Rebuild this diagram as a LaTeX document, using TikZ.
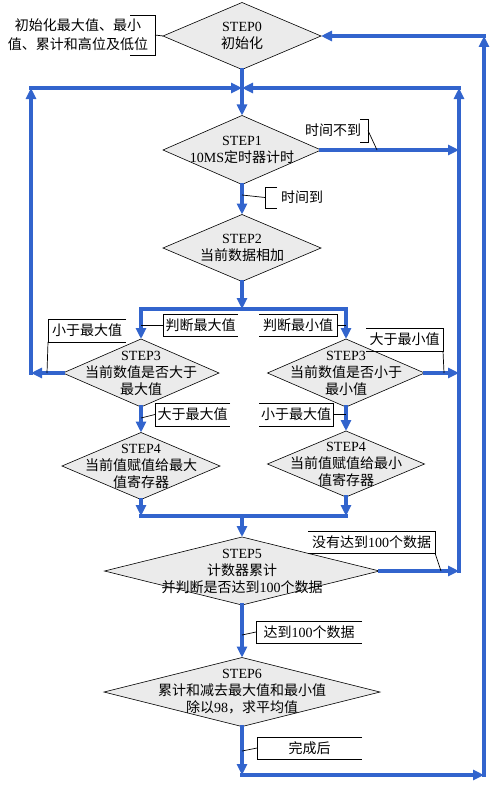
\documentclass[tikz,border=0pt]{standalone}
\usepackage{fontspec}
\setmainfont{Liberation Serif}
\newfontfamily\cjk{Noto Sans CJK SC}
\newcommand\zh[1]{{\cjk #1}}
\usetikzlibrary{shapes.geometric,arrows.meta}
\definecolor{flowblue}{RGB}{50,100,205}
\begin{document}
\begin{tikzpicture}[x=1bp,y=-1bp,
  dia/.style={diamond, draw=black, line width=0.6bp, fill=black!8, inner sep=0, outer sep=0},
  txt/.style={font=\fontsize{14bp}{17bp}\selectfont, align=center, inner sep=0},
  flowline/.style={draw=flowblue, line width=3.1bp, line cap=rect},
  flow/.style={flowline, -{Triangle[length=11bp,width=10bp]}},
  brk/.style={draw=black, line width=0.7bp},
  bx/.style={font=\fontsize{14bp}{17bp}\selectfont, inner sep=0, outer sep=0}
]
\useasboundingbox (0,0) rectangle (500,795);

% diamonds
\node[dia, minimum width=158bp, minimum height=67bp] (s0) at (242,36) {};
\node[dia, minimum width=158bp, minimum height=69bp] (s1) at (242,150) {};
\node[dia, minimum width=158bp, minimum height=67bp] (s2) at (242,248) {};
\node[dia, minimum width=156bp, minimum height=68bp] (s3a) at (141,373) {};
\node[dia, minimum width=157bp, minimum height=68bp] (s3b) at (346,373) {};
\node[dia, minimum width=158bp, minimum height=67bp] (s4a) at (141,466) {};
\node[dia, minimum width=157bp, minimum height=66bp] (s4b) at (346,464) {};
\node[dia, minimum width=275bp, minimum height=68bp] (s5) at (242,571) {};
\node[dia, minimum width=276bp, minimum height=69bp] (s6) at (242,692) {};

% diamond texts
\node[txt] (t0) at (s0.center) {STEP0\\\zh{初始化}};
\node[txt] (t1) at (s1.center) {STEP1\\10MS\zh{定时器计时}};
\node[txt] (t2) at (s2.center) {STEP2\\\zh{当前数据相加}};
\node[txt] (t3a) at (s3a.center) {STEP3\\\zh{当前数值是否大于}\\\zh{最大值}};
\node[txt] (t3b) at (s3b.center) {STEP3\\\zh{当前数值是否小于}\\\zh{最小值}};
\node[txt] (t4a) at (s4a.center) {STEP4\\\zh{当前值赋值给最大}\\\zh{值寄存器}};
\node[txt] (t4b) at (s4b.center) {STEP4\\\zh{当前值赋值给最小}\\\zh{值寄存器}};
\node[txt] (t5) at (s5.center) {STEP5\\\zh{计数器累计}\\\zh{并判断是否达到}100\zh{个数据}};
\node[txt] (t6) at (s6.center) {STEP6\\\zh{累计和减去最大值和最小值}\\\zh{除以}98\zh{，求平均值}};

% coordinates of the flow lines
\coordinate (j0) at (242,88);
\coordinate (L1) at (31,373);
\coordinate (L2) at (31,88);
\coordinate (R1) at (459,150);
\coordinate (R2) at (459,373);
\coordinate (R3) at (459,571);
\coordinate (R4) at (459,88);
\coordinate (M1) at (242,309);
\coordinate (M1a) at (141,309);
\coordinate (M1b) at (346,309);
\coordinate (M2) at (242,516);
\coordinate (M2a) at (141,516);
\coordinate (M2b) at (346,516);
\coordinate (B1) at (242,775);
\coordinate (B2) at (484,775);
\coordinate (B3) at (484,36);

% flow lines
\draw[flow] (s0.south) -- (s1.north);
\draw[flow] (s3a.west) -- (L1);
\draw[flow] (L1) -- (L2);
\draw[flow] (L2) -- (j0);
\draw[flow] (s1.east) -- (R1);
\draw[flow] (s3b.east) -- (R2);
\draw[flow] (s5.east) -- (R3);
\draw[flow] (R3) -- (R4);
\draw[flow] (R4) -- (j0);
\draw[flow] (s1.south) -- (s2.north);
\draw[flow] (s2.south) -- (M1);
\draw[flowline] (M1a) -- (M1b);
\draw[flow] (M1a) -- (s3a.north);
\draw[flow] (M1b) -- (s3b.north);
\draw[flow] (s3a.south) -- (s4a.north);
\draw[flow] (s3b.south) -- (s4b.north);
\draw[flow] (s4a.south) -- (M2a);
\draw[flow] (s4b.south) -- (M2b);
\draw[flowline] (M2a) -- (M2b);
\draw[flow] (M2) -- (s5.north);
\draw[flow] (s5.south) -- (s6.north);
\draw[flow] (s6.south) -- (B1);
\draw[flow] (B1) -- (B2);
\draw[flow] (B2) -- (B3);
\draw[flow] (B3) -- (s0.east);

% annotation texts outside brackets
\node[txt] (a0) at (78,35) {\zh{初始化最大值、最小}\\[2bp]\zh{值、累计和高位及低位}};
\node[txt] (a1) at (333,130) {\zh{时间不到}};
\node[txt] (a2) at (302,197) {\zh{时间到}};

% bracket boxes
\node[bx, minimum width=25bp, minimum height=40bp] (b0) at (142.5,35) {};
\node[bx, minimum width=8bp, minimum height=23bp] (b1) at (364,130.5) {};
\node[bx, minimum width=12bp, minimum height=21bp] (b2) at (271,197.5) {};
\node[bx, minimum width=75bp, minimum height=22bp] (b3) at (200.5,325) {\zh{判断最大值}};
\node[bx, minimum width=78bp, minimum height=22bp] (b4) at (298,325) {\zh{判断最小值}};
\node[bx, minimum width=78bp, minimum height=23bp] (b5) at (87,330.5) {\zh{小于最大值}};
\node[bx, minimum width=77bp, minimum height=23bp] (b6) at (404.5,339.5) {\zh{大于最小值}};
\node[bx, minimum width=75bp, minimum height=23bp] (b7) at (192.5,414.5) {\zh{大于最大值}};
\node[bx, minimum width=74bp, minimum height=23bp] (b8) at (296,414.5) {\zh{小于最大值}};
\node[bx, minimum width=127bp, minimum height=22bp] (b9) at (371.5,542) {\zh{没有达到}100\zh{个数据}};
\node[bx, minimum width=106bp, minimum height=22bp] (b10) at (309,632) {\zh{达到}100\zh{个数据}};
\node[bx, minimum width=105bp, minimum height=22bp] (b11) at (309.5,748) {\zh{完成后}};

% brackets open to the left
\foreach \b in {b0,b1,b4,b6,b8,b9}
  \draw[brk] (\b.north west) -- (\b.north east) -- (\b.south east) -- (\b.south west);
% brackets open to the right
\foreach \b in {b2,b3,b5,b7,b10,b11}
  \draw[brk] (\b.north east) -- (\b.north west) -- (\b.south west) -- (\b.south east);

% leader points on the flow lines
\coordinate (l1) at (377,150);
\coordinate (l2) at (242,195);
\coordinate (l3) at (141,325);
\coordinate (l4) at (346,325);
\coordinate (l5) at (47,373);
\coordinate (l6) at (444,373);
\coordinate (l7) at (141,418);
\coordinate (l8) at (346,414.5);
\coordinate (l9) at (441,571);
\coordinate (l10) at (242,635);
\coordinate (l11) at (242,751);

% leaders
\draw[brk] (b0.east) -- (s0.west);
\draw[brk] (b1.east) -- (l1);
\draw[brk] (l2) -- (b2.west);
\draw[brk] (b3.west) -- (l3);
\draw[brk] (b4.east) -- (l4);
\draw[brk] (b5.south west) -- (l5);
\draw[brk] (b6.south east) -- (l6);
\draw[brk] (b7.west) -- (l7);
\draw[brk] (b8.east) -- (l8);
\draw[brk] (b9.south east) -- (l9);
\draw[brk] (b10.west) -- (l10);
\draw[brk] (b11.west) -- (l11);
\end{tikzpicture}
\end{document}
